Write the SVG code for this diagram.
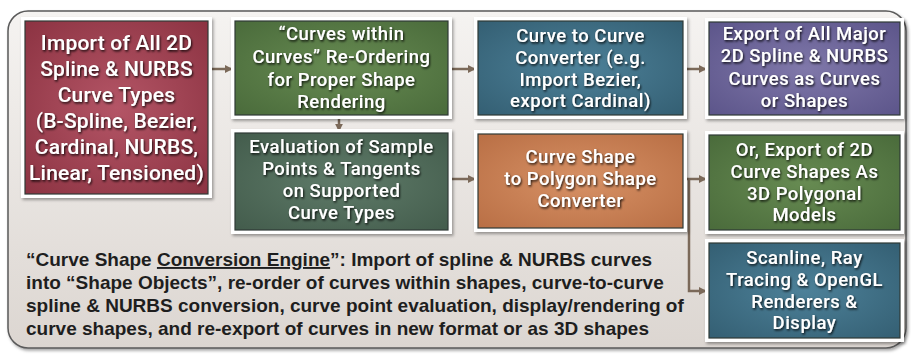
<svg xmlns="http://www.w3.org/2000/svg" width="911" height="359" viewBox="0 0 911 359">
<defs>
<linearGradient id="panelG" x1="0" y1="0" x2="0" y2="1">
<stop offset="0" stop-color="#f5f3f1"/><stop offset="1" stop-color="#dcd6d1"/>
</linearGradient>
<radialGradient id="redG" cx="0.5" cy="0.5" r="0.7"><stop offset="0" stop-color="#b45566"/><stop offset="1" stop-color="#8c3342"/></radialGradient>
<radialGradient id="grnG" cx="0.5" cy="0.5" r="0.7"><stop offset="0" stop-color="#678b52"/><stop offset="1" stop-color="#4a6b3b"/></radialGradient>
<radialGradient id="slateG" cx="0.5" cy="0.5" r="0.7"><stop offset="0" stop-color="#5f7b69"/><stop offset="1" stop-color="#435c4c"/></radialGradient>
<radialGradient id="blueG" cx="0.5" cy="0.5" r="0.7"><stop offset="0" stop-color="#4d8199"/><stop offset="1" stop-color="#345f73"/></radialGradient>
<radialGradient id="orgG" cx="0.5" cy="0.5" r="0.7"><stop offset="0" stop-color="#d79165"/><stop offset="1" stop-color="#b96f45"/></radialGradient>
<radialGradient id="purG" cx="0.5" cy="0.5" r="0.7"><stop offset="0" stop-color="#8078aa"/><stop offset="1" stop-color="#5c558a"/></radialGradient>
<filter id="shadow" x="-10%" y="-10%" width="125%" height="130%"><feDropShadow dx="1.5" dy="2" stdDeviation="1.5" flood-color="#000" flood-opacity="0.35"/></filter>
<filter id="tshadow" x="-10%" y="-20%" width="125%" height="150%"><feDropShadow dx="1" dy="1.5" stdDeviation="0.8" flood-color="#000" flood-opacity="0.85"/></filter>
<marker id="ah" viewBox="0 0 10 10" refX="9" refY="5" markerWidth="3.2" markerHeight="3.2" orient="auto" markerUnits="strokeWidth"><path d="M0,0 L10,5 L0,10 z" fill="#7b6959"/></marker>
</defs>
<style>
.frame{fill:#ffffff;filter:url(#shadow)}
.inner{stroke:#2f3a36;stroke-width:1.2}
.bt{font-family:Roboto,"Noto Sans",sans-serif;font-size:18.5px;font-weight:500;letter-spacing:0.5px;fill:#ffffff;text-anchor:middle;filter:url(#tshadow)}
.big{font-size:21px;letter-spacing:0.2px}
.desc{font-family:"Liberation Sans",Arial,sans-serif;font-weight:bold;font-size:19px;fill:#1e1e1e}
.conn{stroke:#7b6959;stroke-width:2.5;fill:none}
</style>
<rect x="8" y="11" width="898" height="337" rx="20" fill="url(#panelG)" stroke="#5a5a5a" stroke-width="1.5" filter="url(#shadow)"/>

<g id="connectors">
<line class="conn" x1="212" y1="69" x2="232" y2="69" marker-end="url(#ah)"/>
<line class="conn" x1="452" y1="69" x2="475" y2="69" marker-end="url(#ah)"/>
<line class="conn" x1="687" y1="69" x2="706" y2="69" marker-end="url(#ah)"/>
<line class="conn" x1="339" y1="119" x2="339" y2="131" marker-end="url(#ah)"/>
<line class="conn" x1="452" y1="179" x2="475" y2="179" marker-end="url(#ah)"/>
<line class="conn" x1="687" y1="179" x2="706" y2="179" marker-end="url(#ah)"/>
<polyline class="conn" points="689,179 689,291 706,291" marker-end="url(#ah)"/>
</g>

<g id="n-import">
<rect class="frame" x="21" y="17" width="191" height="181"/>
<rect class="inner" x="25" y="21" width="183" height="173" fill="url(#redG)"/>
<text class="bt big"><tspan x="116.5" y="50">Import of All 2D</tspan><tspan x="116.5" y="76">Spline &amp; NURBS</tspan><tspan x="116.5" y="102">Curve Types</tspan><tspan x="116.5" y="128">(B-Spline, Bezier,</tspan><tspan x="116.5" y="154">Cardinal, NURBS,</tspan><tspan x="116.5" y="180">Linear, Tensioned)</tspan></text>
</g>

<g id="n-reorder">
<rect class="frame" x="231" y="17" width="221" height="102"/>
<rect class="inner" x="235" y="21" width="213" height="94" fill="url(#grnG)"/>
<text class="bt"><tspan x="341.5" y="40">“Curves within</tspan><tspan x="341.5" y="62.5">Curves” Re-Ordering</tspan><tspan x="341.5" y="85.5">for Proper Shape</tspan><tspan x="341.5" y="108">Rendering</tspan></text>
</g>

<g id="n-eval">
<rect class="frame" x="231" y="129" width="221" height="105"/>
<rect class="inner" x="235" y="133" width="213" height="97" fill="url(#slateG)"/>
<text class="bt"><tspan x="341.5" y="153">Evaluation of Sample</tspan><tspan x="341.5" y="175">Points &amp; Tangents</tspan><tspan x="341.5" y="197">on Supported</tspan><tspan x="341.5" y="219">Curve Types</tspan></text>
</g>

<g id="n-convert">
<rect class="frame" x="474" y="17" width="213" height="102"/>
<rect class="inner" x="478" y="21" width="205" height="94" fill="url(#blueG)"/>
<text class="bt"><tspan x="580.5" y="41.5">Curve to Curve</tspan><tspan x="580.5" y="63.5">Converter (e.g.</tspan><tspan x="580.5" y="85.5">Import Bezier,</tspan><tspan x="580.5" y="107">export Cardinal)</tspan></text>
</g>

<g id="n-polygon">
<rect class="frame" x="474" y="130" width="213" height="102"/>
<rect class="inner" x="478" y="134" width="205" height="94" fill="url(#orgG)"/>
<text class="bt"><tspan x="580.5" y="163">Curve Shape</tspan><tspan x="580.5" y="185">to Polygon Shape</tspan><tspan x="580.5" y="207">Converter</tspan></text>
</g>

<g id="n-export">
<rect class="frame" x="705" y="18" width="199" height="101"/>
<rect class="inner" x="709" y="22" width="191" height="93" fill="url(#purG)"/>
<text class="bt"><tspan x="804.5" y="39.5">Export of All Major</tspan><tspan x="804.5" y="62">2D Spline &amp; NURBS</tspan><tspan x="804.5" y="84.5">Curves as Curves</tspan><tspan x="804.5" y="106.5">or Shapes</tspan></text>
</g>

<g id="n-export3d">
<rect class="frame" x="705" y="131" width="199" height="103"/>
<rect class="inner" x="709" y="135" width="191" height="95" fill="url(#grnG)"/>
<text class="bt"><tspan x="804.5" y="155.5">Or, Export of 2D</tspan><tspan x="804.5" y="177.5">Curve Shapes As</tspan><tspan x="804.5" y="199.5">3D Polygonal</tspan><tspan x="804.5" y="221">Models</tspan></text>
</g>

<g id="n-render">
<rect class="frame" x="705" y="239" width="199" height="103"/>
<rect class="inner" x="709" y="243" width="191" height="95" fill="url(#blueG)"/>
<text class="bt"><tspan x="804.5" y="264">Scanline, Ray</tspan><tspan x="804.5" y="286">Tracing &amp; OpenGL</tspan><tspan x="804.5" y="308">Renderers &amp;</tspan><tspan x="804.5" y="329">Display</tspan></text>
</g>

<g id="description">
<text class="desc"><tspan x="26" y="266">“Curve Shape <tspan text-decoration="underline">Conversion Engine</tspan>”: Import of spline &amp; NURBS curves</tspan><tspan x="26" y="289">into “Shape Objects”, re-order of curves within shapes, curve-to-curve</tspan><tspan x="26" y="312">spline &amp; NURBS conversion, curve point evaluation, display/rendering of</tspan><tspan x="26" y="335">curve shapes, and re-export of curves in new format or as 3D shapes</tspan></text>
</g>
</svg>
